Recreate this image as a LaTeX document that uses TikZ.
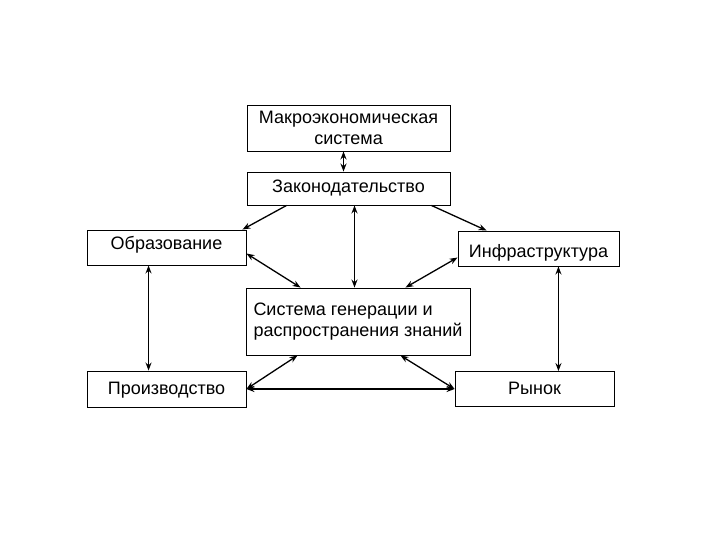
\documentclass[tikz,border=0pt]{standalone}
\usepackage{fontspec}
\setmainfont{Liberation Sans}
\usetikzlibrary{arrows.meta,calc}

\begin{document}
\begin{tikzpicture}[
    x=1pt, y=-1pt,
    every node/.style={font=\fontsize{18}{20.5}\selectfont},
    box/.style={draw, line width=0.9pt, inner sep=0pt, align=center},
    arr/.style={{Stealth[length=8pt,width=6pt]}-{Stealth[length=8pt,width=6pt]}, line width=1.3pt},
    onearr/.style={-{Stealth[length=8pt,width=6pt]}, line width=1.3pt}
  ]
  \useasboundingbox (0,0) rectangle (720,540);
  \node[box, minimum width=203pt, minimum height=46pt] (macro) at (348.5,128) {Макроэкономическая\\система};
  \node[box, minimum width=203pt, minimum height=33pt] (zakon) at (348.5,188.5) {Законодательство};
  \node[box, minimum width=159pt, minimum height=35pt, text height=12pt, text depth=9pt] (obr) at (166.5,247.5) {Образование};
  \node[box, minimum width=161pt, minimum height=35pt, text height=19pt, text depth=2pt] (infra) at (538.5,248.5) {Инфраструктура};
  \node[box, minimum width=224pt, minimum height=67pt, align=left] (sys) at (358,321.5) {Система генерации и\\распространения знаний};
  \node[box, minimum width=159pt, minimum height=36pt, text height=15pt, text depth=4pt] (proizv) at (166.5,389) {Производство};
  \node[box, minimum width=159pt, minimum height=35pt, text height=15pt, text depth=4pt] (rynok) at (534.5,389) {Рынок};

  \draw[arr] ([xshift=-5pt]macro.south) -- ([xshift=-5pt]zakon.north);
  \draw[onearr] ([xshift=40pt]zakon.south west) -- ([xshift=-4pt]obr.north east);
  \draw[onearr] ([xshift=-19pt]zakon.south east) -- ([xshift=29pt]infra.north west);
  \draw[arr] ([xshift=6pt]zakon.south) -- ([xshift=6pt]zakon.south |- sys.north);
  \draw[arr] ([yshift=-6pt]obr.east) -- ([xshift=55pt]sys.north west);
  \draw[arr] ([yshift=-9pt]infra.west) -- ([xshift=-65pt]sys.north east);
  \draw[arr] ([xshift=62pt]obr.south west) -- ([xshift=62pt]proizv.north west);
  \draw[arr] ([xshift=-61pt]infra.south east) -- ([xshift=-61pt]infra.south east |- rynok.north);
  \draw[arr] ([xshift=52pt]sys.south west) -- (proizv.east);
  \draw[arr] ([xshift=-70pt]sys.south east) -- (rynok.west);
  \draw[arr] (proizv.east) -- (rynok.west);
\end{tikzpicture}
\end{document}
